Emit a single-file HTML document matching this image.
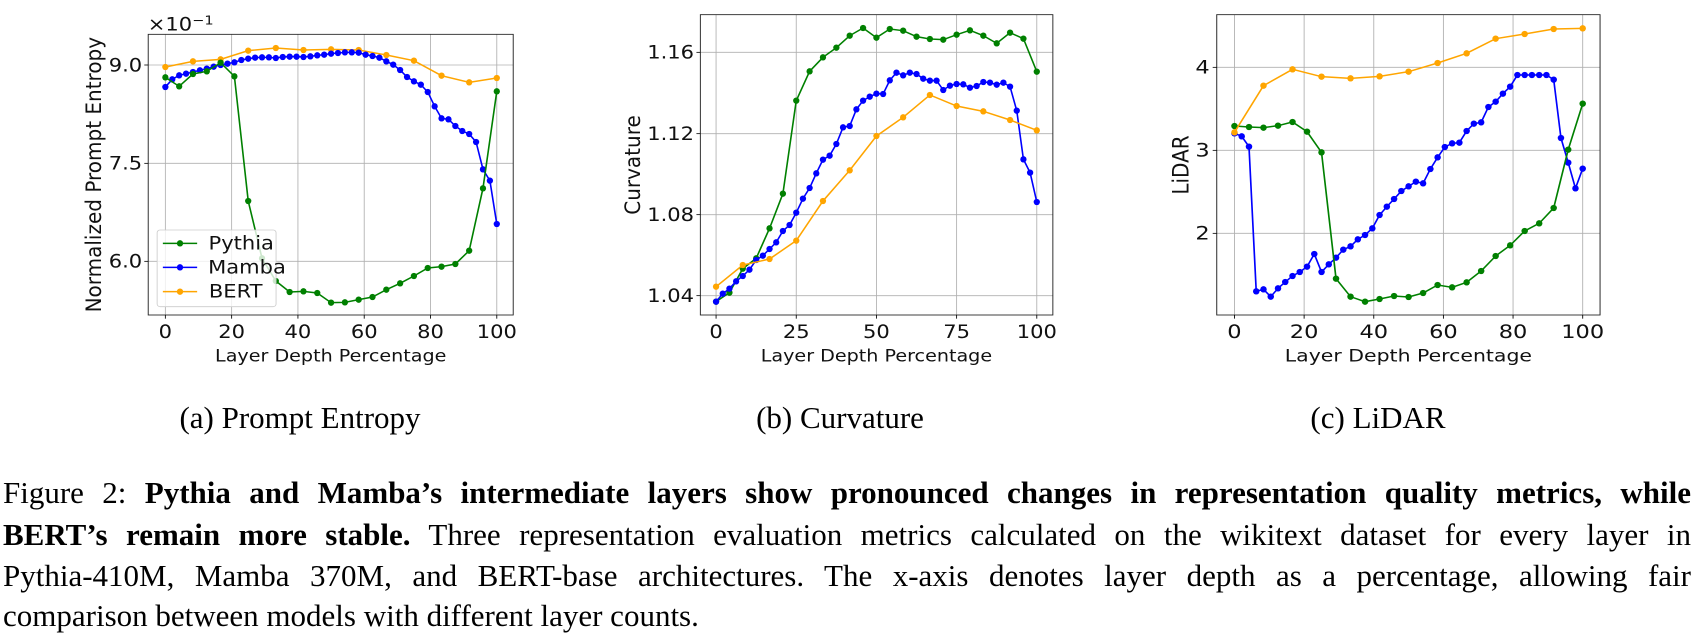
<!DOCTYPE html>
<html><head><meta charset="utf-8"><style>
html,body{margin:0;padding:0;background:#fff;width:1699px;height:643px;overflow:hidden;position:relative}
svg{position:absolute;left:0;top:0}
.cap{position:absolute;width:400px;text-align:center;font-family:"Liberation Serif",serif;font-size:31px;color:#000;white-space:nowrap}
.ln{position:absolute;left:3px;width:1688px;font-family:"Liberation Serif",serif;font-size:31px;color:#000;white-space:nowrap;text-align:justify;text-align-last:justify}
</style></head><body>
<svg width="1699" height="400" viewBox="0 0 1699 400" font-family="DejaVu Sans, sans-serif">
<defs>
<marker id="mg" viewBox="-10 -10 20 20" markerWidth="20" markerHeight="20" markerUnits="userSpaceOnUse"><ellipse rx="8.8" ry="9.5" fill="#008000"/></marker>
<marker id="mb" viewBox="-10 -10 20 20" markerWidth="20" markerHeight="20" markerUnits="userSpaceOnUse"><ellipse rx="8.8" ry="9.5" fill="#0000ff"/></marker>
<marker id="mo" viewBox="-10 -10 20 20" markerWidth="20" markerHeight="20" markerUnits="userSpaceOnUse"><ellipse rx="8.8" ry="9.5" fill="#ffa500"/></marker>
</defs>
<style>
.g{fill:none;stroke:#008000;stroke-width:4.5;marker-start:url(#mg);marker-mid:url(#mg);marker-end:url(#mg)}
.b{fill:none;stroke:#0000ff;stroke-width:4.5;marker-start:url(#mb);marker-mid:url(#mb);marker-end:url(#mb)}
.o{fill:none;stroke:#ffa500;stroke-width:4.5;marker-start:url(#mo);marker-mid:url(#mo);marker-end:url(#mo)}
.gr{stroke:#b0b0b0;stroke-width:2.4}
.tk{stroke:#000;stroke-width:2.4}
.box{fill:none;stroke:#222;stroke-width:2.6}
text{font-size:55px;fill:#111}
.xl{font-size:50px}
.yl{font-size:60px}
.pa text:not(.yl),.pb text:not(.yl){transform-box:fill-box;transform-origin:center;transform:scaleX(1.0714)}
.pc text:not(.yl){transform-box:fill-box;transform-origin:center;transform:scaleX(1.108)}
</style>

<!-- Panel A -->
<g class="pa" transform="scale(0.357143,0.3333333)">
<g class="gr"><line x1="463" y1="103" x2="463" y2="945"/><line x1="648.6" y1="103" x2="648.6" y2="945"/><line x1="834.2" y1="103" x2="834.2" y2="945"/><line x1="1019.8" y1="103" x2="1019.8" y2="945"/><line x1="1205.4" y1="103" x2="1205.4" y2="945"/><line x1="1391" y1="103" x2="1391" y2="945"/>
<line x1="415" y1="195" x2="1437" y2="195"/><line x1="415" y1="490" x2="1437" y2="490"/><line x1="415" y1="784" x2="1437" y2="784"/></g>
<polyline class="o" points="463,201 540.3,184 617.7,178 695,152 772.3,144 849.7,150 927,148 1004.3,150 1081.7,165 1159,182 1236.3,227 1313.7,247 1391,234"/>
<polyline class="b" points="463,261 482.3,238 501.7,226 521,221 540.3,216 559.7,211 579,206 598.3,200 617.7,195 637,191 656.3,187 675.7,180 695,176 714.3,173 733.7,172 753,172 772.3,174 791.7,171 811,170 830.3,170 849.7,171 869,169 888.3,166 907.7,164 927,161 946.3,159 965.7,157 985,157 1004.3,158 1023.7,164 1043,168 1062.3,173 1081.7,184 1101,194 1120.3,210 1139.7,231 1159,244 1178.3,254 1197.7,276 1217,319 1236.3,355 1255.7,358 1275,378 1294.3,393 1313.7,402 1333,426 1352.3,508 1371.7,542 1391,672"/>
<polyline class="g" points="463,232 501.7,259 540.3,222 579,214 617.7,188 656.3,229 695,603 733.7,775 772.3,843 811,876 849.7,874 888.3,879 927,908 965.7,907 1004.3,899 1043,891 1081.7,869 1120.3,850 1159,828 1197.7,804 1236.3,800 1275,792 1313.7,752 1352.3,565 1391,274"/>
<rect class="box" x="415" y="103" width="1022" height="842"/>
<g class="tk"><line x1="463" y1="945" x2="463" y2="956"/><line x1="648.6" y1="945" x2="648.6" y2="956"/><line x1="834.2" y1="945" x2="834.2" y2="956"/><line x1="1019.8" y1="945" x2="1019.8" y2="956"/><line x1="1205.4" y1="945" x2="1205.4" y2="956"/><line x1="1391" y1="945" x2="1391" y2="956"/>
<line x1="404" y1="195" x2="415" y2="195"/><line x1="404" y1="490" x2="415" y2="490"/><line x1="404" y1="784" x2="415" y2="784"/></g>
<g text-anchor="middle"><text x="463" y="1014">0</text><text x="648.6" y="1014">20</text><text x="834.2" y="1014">40</text><text x="1019.8" y="1014">60</text><text x="1205.4" y="1014">80</text><text x="1391" y="1014">100</text>
<text class="xl" x="926" y="1085">Layer Depth Percentage</text></g>
<g text-anchor="end"><text x="395" y="214">9.0</text><text x="395" y="509">7.5</text><text x="395" y="803">6.0</text></g>
<text x="420" y="92">×10<tspan dy="-18" font-size="38">−1</tspan></text>
<text class="yl" transform="translate(283,524) rotate(-90)" text-anchor="middle">Normalized Prompt Entropy</text>
<rect x="440" y="690" width="333" height="230" rx="8" fill="#fff" fill-opacity="0.8" stroke="#ccc" stroke-width="2.4"/>
<polyline class="g" points="456,730 504,730 552,730" style="marker-start:none;marker-end:none"/>
<polyline class="b" points="456,802 504,802 552,802" style="marker-start:none;marker-end:none"/>
<polyline class="o" points="456,875 504,875 552,875" style="marker-start:none;marker-end:none"/>
<g text-anchor="start"><text x="590" y="748" font-size="46">Pythia</text><text x="590" y="820" font-size="46">Mamba</text><text x="590" y="893" font-size="46">BERT</text></g>
</g>

<!-- Panel B -->
<g class="pb" transform="translate(560,0) scale(0.357143,0.3333333)">
<g class="gr"><line x1="437" y1="44" x2="437" y2="945"/><line x1="661.5" y1="44" x2="661.5" y2="945"/><line x1="886" y1="44" x2="886" y2="945"/><line x1="1110.5" y1="44" x2="1110.5" y2="945"/><line x1="1335" y1="44" x2="1335" y2="945"/>
<line x1="393" y1="157" x2="1380" y2="157"/><line x1="393" y1="401" x2="1380" y2="401"/><line x1="393" y1="644" x2="1380" y2="644"/><line x1="393" y1="887" x2="1380" y2="887"/></g>
<polyline class="g" points="437,905 474.4,878 511.8,806 549.3,775 586.7,685 624.1,581 661.5,302 698.9,214 736.3,172 773.8,143 811.2,107 848.6,84 886,113 923.4,87 960.8,92 998.3,110 1035.7,117 1073.1,119 1110.5,104 1147.9,91 1185.3,107 1222.8,130 1260.2,98 1297.6,116 1335,215"/>
<polyline class="b" points="437,905 455.7,881 474.4,866 493.1,844 511.8,828 530.5,809 549.3,780 568,767 586.7,747 605.4,727 624.1,693 642.8,675 661.5,638 680.2,596 698.9,564 717.6,520 736.3,479 755,467 773.8,432 792.5,382 811.2,378 829.9,328 848.6,302 867.3,290 886,281 904.7,282 923.4,241 942.1,218 960.8,226 979.5,218 998.3,222 1017,236 1035.7,242 1054.4,242 1073.1,270 1091.8,257 1110.5,252 1129.2,253 1147.9,263 1166.6,258 1185.3,246 1204,248 1222.8,254 1241.5,248 1260.2,260 1278.9,332 1297.6,478 1316.3,518 1335,606"/>
<polyline class="o" points="437,860 511.8,795 586.7,777 661.5,722 736.3,603 811.2,511 886,408 960.8,352 1035.7,285 1110.5,318 1185.3,334 1260.2,360 1335,391"/>
<rect class="box" x="393" y="44" width="987" height="901"/>
<g class="tk"><line x1="437" y1="945" x2="437" y2="956"/><line x1="661.5" y1="945" x2="661.5" y2="956"/><line x1="886" y1="945" x2="886" y2="956"/><line x1="1110.5" y1="945" x2="1110.5" y2="956"/><line x1="1335" y1="945" x2="1335" y2="956"/>
<line x1="382" y1="157" x2="393" y2="157"/><line x1="382" y1="401" x2="393" y2="401"/><line x1="382" y1="644" x2="393" y2="644"/><line x1="382" y1="887" x2="393" y2="887"/></g>
<g text-anchor="middle"><text x="437" y="1014">0</text><text x="661.5" y="1014">25</text><text x="886" y="1014">50</text><text x="1110.5" y="1014">75</text><text x="1335" y="1014">100</text>
<text class="xl" x="886" y="1085">Layer Depth Percentage</text></g>
<g text-anchor="end"><text x="371" y="176">1.16</text><text x="371" y="420">1.12</text><text x="371" y="663">1.08</text><text x="371" y="906">1.04</text></g>
<text class="yl" transform="translate(224,495) rotate(-90)" text-anchor="middle">Curvature</text>
</g>

<!-- Panel C -->
<g class="pc" transform="translate(1120,0) scale(0.369275,0.3333333)">
<g class="gr"><line x1="310" y1="44" x2="310" y2="945"/><line x1="498.6" y1="44" x2="498.6" y2="945"/><line x1="687.2" y1="44" x2="687.2" y2="945"/><line x1="875.8" y1="44" x2="875.8" y2="945"/><line x1="1064.4" y1="44" x2="1064.4" y2="945"/><line x1="1253" y1="44" x2="1253" y2="945"/>
<line x1="262" y1="202" x2="1300" y2="202"/><line x1="262" y1="451" x2="1300" y2="451"/><line x1="262" y1="700" x2="1300" y2="700"/></g>
<polyline class="b" points="310,400 329.6,409 349.3,440 368.9,874 388.6,868 408.2,890 427.9,865 447.5,846 467.2,828 486.8,816 506.5,800 526.1,762 545.8,816 565.4,793 585,773 604.7,749 624.3,739 644,718 663.6,705 683.3,685 702.9,645 722.6,620 742.2,597 761.9,573 781.5,559 801.2,545 820.8,550 840.5,507 860.1,472 879.7,441 899.4,430 919,428 938.7,393 958.3,371 978,367 997.6,321 1017.3,305 1036.9,281 1056.6,260 1076.2,225 1095.9,225 1115.5,225 1135.2,225 1154.8,225 1174.5,239 1194.1,414 1213.8,488 1233.4,565 1253,506"/>
<polyline class="g" points="310,378 349.3,381 388.6,383 427.9,377 467.2,366 506.5,395 545.7,457 585,836 624.3,890 663.6,905 702.9,897 742.2,888 781.5,891 820.8,879 860.1,855 899.4,862 938.7,847 978,813 1017.3,768 1056.6,736 1095.9,693 1135.2,670 1174.4,624 1213.7,449 1253,311"/>
<polyline class="o" points="310,397 388.6,257 467.2,208 545.7,230 624.3,235 702.9,229 781.5,215 860.1,189 938.7,160 1017.2,116 1095.8,102 1174.4,87 1253,85"/>
<rect class="box" x="262" y="44" width="1038" height="901"/>
<g class="tk"><line x1="310" y1="945" x2="310" y2="956"/><line x1="498.6" y1="945" x2="498.6" y2="956"/><line x1="687.2" y1="945" x2="687.2" y2="956"/><line x1="875.8" y1="945" x2="875.8" y2="956"/><line x1="1064.4" y1="945" x2="1064.4" y2="956"/><line x1="1253" y1="945" x2="1253" y2="956"/>
<line x1="251" y1="202" x2="262" y2="202"/><line x1="251" y1="451" x2="262" y2="451"/><line x1="251" y1="700" x2="262" y2="700"/></g>
<g text-anchor="middle"><text x="310" y="1014">0</text><text x="498.6" y="1014">20</text><text x="687.2" y="1014">40</text><text x="875.8" y="1014">60</text><text x="1064.4" y="1014">80</text><text x="1253" y="1014">100</text>
<text class="xl" x="781" y="1085">Layer Depth Percentage</text></g>
<g text-anchor="end"><text x="241" y="221">4</text><text x="241" y="470">3</text><text x="241" y="719">2</text></g>
<text class="yl" transform="translate(186,495) rotate(-90)" text-anchor="middle">LiDAR</text>
</g>
</svg>

<div class="cap" style="left:100px;top:400px">(a) Prompt Entropy</div>
<div class="cap" style="left:640px;top:400px">(b) Curvature</div>
<div class="cap" style="left:1178px;top:400px">(c) LiDAR</div>

<div class="ln" style="top:475px">Figure 2: <b>Pythia and Mamba’s intermediate layers show pronounced changes in representation quality metrics, while</b></div>
<div class="ln" style="top:517px"><b>BERT’s remain more stable.</b> Three representation evaluation metrics calculated on the wikitext dataset for every layer in</div>
<div class="ln" style="top:558px">Pythia-410M, Mamba 370M, and BERT-base architectures. The x-axis denotes layer depth as a percentage, allowing fair</div>
<div class="ln" style="top:598px;text-align:left;text-align-last:left">comparison between models with different layer counts.</div>
</body></html>
